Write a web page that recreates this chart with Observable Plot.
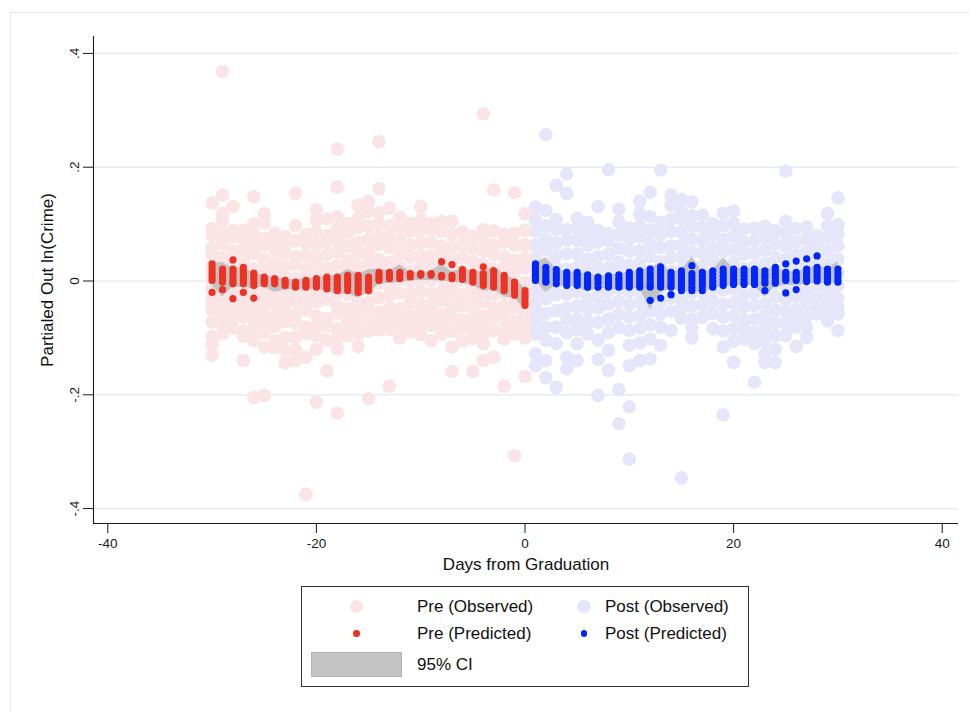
<!DOCTYPE html>
<html>
<head>
<meta charset="utf-8">
<script src="https://cdn.jsdelivr.net/npm/d3@7"></script>
<script src="https://cdn.jsdelivr.net/npm/@observablehq/plot@0.6"></script>
<style>
  body { margin: 0; background: #fff; font-family: "Liberation Sans", Arial, Helvetica, sans-serif; }
  #page { position: relative; width: 969px; height: 712px; overflow: hidden; background: #fff; }
  #outer { position: absolute; left: 10px; top: 12px; width: 980px; height: 720px; border: 1px solid #e9e9e9; }
  #chart { position: absolute; left: 0; top: 0; }
  #legend-box { position: absolute; left: 301px; top: 586px; width: 446px; height: 99px; border: 1.3px solid #333; }
  .lg-text { position: absolute; font-size: 17px; color: #111; line-height: 20px; height: 20px; white-space: nowrap; }
  .lg-dot { position: absolute; border-radius: 50%; }
  .lg-rect { position: absolute; background: #c4c4c4; border: 1px solid #b3b3b3; box-sizing: border-box; }
</style>
</head>
<body>
<div id="page">
  <div id="outer"></div>
  <div id="chart"></div>
  <div id="legend-box"></div>
  <div id="legend"></div>
</div>
<script>
// Days relative to graduation
const preDays = [-30,-29,-28,-27,-26,-25,-24,-23,-22,-21,-20,-19,-18,-17,-16,-15,-14,-13,-12,-11,-10,-9,-8,-7,-6,-5,-4,-3,-2,-1,0];
const postDays = [1,2,3,4,5,6,7,8,9,10,11,12,13,14,15,16,17,18,19,20,21,22,23,24,25,26,27,28,29,30];

// Observed partialed-out ln(crime), one list per day (pre period)
const preObserved = [
  [0.137, 0.092, 0.081, 0.058, 0.047, 0.026, 0.018, 0.002, -0.013, -0.031, -0.046, -0.051, -0.072, -0.098, -0.111, -0.130],
  [0.368, 0.151, 0.119, 0.106, 0.083, 0.066, 0.041, 0.033, 0.009, -0.006, -0.027, -0.043, -0.062, -0.075, -0.092],
  [0.131, 0.089, 0.077, 0.052, 0.044, 0.021, 0.007, -0.016, -0.024, -0.041, -0.057, -0.066, -0.083],
  [0.089, 0.071, 0.057, 0.036, 0.013, -0.004, -0.019, -0.038, -0.047, -0.063, -0.088, -0.097, -0.140],
  [0.148, 0.101, 0.082, 0.061, 0.049, 0.022, 0.011, -0.014, -0.029, -0.052, -0.068, -0.083, -0.105, -0.205],
  [0.118, 0.102, 0.074, 0.063, 0.038, 0.017, 0.003, -0.021, -0.039, -0.058, -0.072, -0.090, -0.116, -0.201],
  [0.084, 0.073, 0.055, 0.031, 0.019, -0.008, -0.026, -0.041, -0.064, -0.080, -0.105, -0.117],
  [0.078, 0.062, 0.047, 0.024, 0.006, -0.012, -0.035, -0.053, -0.071, -0.099, -0.122, -0.144],
  [0.154, 0.097, 0.071, 0.043, 0.029, 0.004, -0.018, -0.036, -0.059, -0.074, -0.099, -0.121, -0.140],
  [0.081, 0.067, 0.045, 0.021, 0.008, -0.016, -0.033, -0.051, -0.081, -0.092, -0.134, -0.375],
  [0.125, 0.107, 0.086, 0.064, 0.041, 0.028, 0.006, -0.022, -0.037, -0.061, -0.079, -0.096, -0.120, -0.213],
  [0.109, 0.080, 0.068, 0.046, 0.022, 0.009, -0.017, -0.032, -0.066, -0.079, -0.104, -0.158],
  [0.232, 0.165, 0.113, 0.091, 0.072, 0.051, 0.027, 0.004, -0.021, -0.043, -0.056, -0.083, -0.100, -0.119, -0.232],
  [0.101, 0.084, 0.061, 0.037, 0.022, -0.006, -0.024, -0.049, -0.067, -0.083, -0.096],
  [0.133, 0.110, 0.094, 0.068, 0.049, 0.026, 0.004, -0.019, -0.037, -0.055, -0.071, -0.093, -0.115],
  [0.140, 0.122, 0.096, 0.073, 0.051, 0.031, 0.009, -0.014, -0.038, -0.052, -0.074, -0.088, -0.207],
  [0.245, 0.162, 0.120, 0.101, 0.079, 0.064, 0.038, 0.021, -0.004, -0.029, -0.055, -0.069, -0.086],
  [0.128, 0.097, 0.076, 0.059, 0.033, 0.011, -0.008, -0.026, -0.047, -0.066, -0.085, -0.185],
  [0.112, 0.093, 0.071, 0.048, 0.026, 0.003, -0.021, -0.049, -0.061, -0.081, -0.100],
  [0.101, 0.087, 0.063, 0.042, 0.017, -0.001, -0.023, -0.038, -0.061, -0.072, -0.089],
  [0.131, 0.108, 0.087, 0.066, 0.043, 0.024, 0.003, -0.018, -0.041, -0.057, -0.076, -0.094],
  [0.101, 0.091, 0.068, 0.044, 0.027, 0.002, -0.021, -0.043, -0.062, -0.078, -0.105],
  [0.105, 0.088, 0.062, 0.047, 0.023, 0.006, -0.017, -0.034, -0.059, -0.074, -0.093],
  [0.105, 0.082, 0.059, 0.036, 0.014, -0.008, -0.027, -0.049, -0.067, -0.088, -0.116, -0.159],
  [0.086, 0.063, 0.041, 0.018, 0.002, -0.024, -0.043, -0.068, -0.082, -0.105],
  [0.079, 0.058, 0.034, 0.014, -0.009, -0.028, -0.047, -0.066, -0.083, -0.101, -0.159],
  [0.294, 0.090, 0.074, 0.052, 0.028, 0.007, -0.019, -0.036, -0.061, -0.078, -0.094, -0.110, -0.140],
  [0.160, 0.088, 0.063, 0.046, 0.021, -0.002, -0.024, -0.048, -0.064, -0.087, -0.134],
  [0.082, 0.068, 0.043, 0.024, -0.001, -0.021, -0.044, -0.062, -0.083, -0.102, -0.185],
  [0.155, 0.084, 0.063, 0.037, 0.016, -0.008, -0.029, -0.047, -0.071, -0.093, -0.307],
  [0.118, 0.089, 0.064, 0.041, 0.023, -0.003, -0.021, -0.046, -0.063, -0.081, -0.100, -0.168]
];

// Observed partialed-out ln(crime), one list per day (post period)
const postObserved = [
  [0.130, 0.107, 0.088, 0.063, 0.041, 0.022, 0.004, -0.018, -0.039, -0.052, -0.071, -0.093, -0.128, -0.149],
  [0.257, 0.124, 0.097, 0.074, 0.056, 0.031, 0.009, -0.012, -0.031, -0.057, -0.081, -0.104, -0.140, -0.170],
  [0.168, 0.108, 0.091, 0.067, 0.044, 0.023, -0.004, -0.024, -0.052, -0.081, -0.110, -0.187],
  [0.188, 0.154, 0.091, 0.072, 0.048, 0.021, 0.002, -0.023, -0.047, -0.068, -0.091, -0.134, -0.154],
  [0.110, 0.093, 0.071, 0.047, 0.024, 0.003, -0.019, -0.044, -0.067, -0.085, -0.110, -0.140],
  [0.103, 0.082, 0.063, 0.038, 0.016, -0.006, -0.031, -0.049, -0.071, -0.093],
  [0.131, 0.089, 0.068, 0.043, 0.022, -0.004, -0.027, -0.048, -0.073, -0.104, -0.138, -0.201],
  [0.196, 0.083, 0.071, 0.047, 0.023, 0.001, -0.018, -0.041, -0.067, -0.091, -0.122, -0.157],
  [0.126, 0.104, 0.081, 0.057, 0.033, 0.011, -0.013, -0.036, -0.059, -0.082, -0.191, -0.251],
  [0.093, 0.074, 0.052, 0.027, 0.006, -0.019, -0.041, -0.063, -0.087, -0.113, -0.149, -0.221, -0.313],
  [0.140, 0.118, 0.096, 0.078, 0.053, 0.032, 0.009, -0.017, -0.038, -0.061, -0.083, -0.109, -0.140],
  [0.156, 0.113, 0.089, 0.066, 0.043, 0.018, -0.004, -0.028, -0.052, -0.077, -0.102, -0.137],
  [0.195, 0.103, 0.082, 0.059, 0.034, 0.012, -0.011, -0.036, -0.058, -0.081, -0.113],
  [0.151, 0.133, 0.108, 0.087, 0.062, 0.041, 0.017, -0.006, -0.029, -0.053, -0.087],
  [0.143, 0.122, 0.109, 0.086, 0.063, 0.041, 0.018, -0.007, -0.031, -0.048, -0.066, -0.346],
  [0.139, 0.115, 0.097, 0.074, 0.051, 0.027, 0.003, -0.021, -0.044, -0.067, -0.083, -0.100],
  [0.116, 0.094, 0.071, 0.049, 0.026, 0.004, -0.019, -0.041, -0.064],
  [0.101, 0.082, 0.058, 0.036, 0.011, -0.013, -0.034, -0.057, -0.084],
  [0.119, 0.097, 0.073, 0.052, 0.029, 0.006, -0.016, -0.041, -0.063, -0.088, -0.116, -0.235],
  [0.123, 0.101, 0.079, 0.056, 0.033, 0.009, -0.014, -0.038, -0.061, -0.084, -0.106, -0.143],
  [0.091, 0.068, 0.047, 0.022, 0.001, -0.024, -0.046, -0.069, -0.085, -0.102],
  [0.093, 0.071, 0.049, 0.026, 0.004, -0.021, -0.043, -0.067, -0.091, -0.110, -0.178],
  [0.096, 0.077, 0.054, 0.031, 0.008, -0.016, -0.039, -0.061, -0.083, -0.105, -0.128, -0.143],
  [0.088, 0.066, 0.042, 0.019, -0.004, -0.027, -0.051, -0.073, -0.096, -0.120, -0.143],
  [0.193, 0.105, 0.083, 0.061, 0.038, 0.014, -0.009, -0.032, -0.054, -0.076, -0.096],
  [0.092, 0.069, 0.046, 0.022, -0.002, -0.026, -0.049, -0.067, -0.081, -0.115],
  [0.095, 0.074, 0.052, 0.029, 0.006, -0.018, -0.041, -0.063, -0.081, -0.099],
  [0.080, 0.061, 0.038, 0.014, -0.009, -0.031, -0.046, -0.058],
  [0.119, 0.097, 0.076, 0.053, 0.029, 0.006, -0.017, -0.039, -0.058, -0.070],
  [0.146, 0.099, 0.083, 0.062, 0.038, 0.015, -0.008, -0.031, -0.047, -0.058, -0.087]
];

// Model predictions, one list per day
const prePredicted = [
  [0.030, 0.024, 0.018, 0.012, 0.006, 0.001, -0.020],
  [0.021, 0.016, 0.011, 0.006, 0.001, -0.002, -0.015],
  [0.037, 0.021, 0.016, 0.010, 0.004, -0.001, -0.005, -0.031],
  [0.024, 0.018, 0.012, 0.006, 0.001, -0.005, -0.020],
  [0.014, 0.009, 0.004, -0.002, -0.008, -0.030],
  [0.007, 0.003, -0.001, -0.005],
  [0.004, 0.000, -0.005],
  [0.001, -0.003, -0.008],
  [-0.002, -0.006, -0.011],
  [0.001, -0.004, -0.008, -0.011],
  [0.004, 0.000, -0.004, -0.008, -0.011],
  [0.007, 0.002, -0.003, -0.008, -0.014],
  [0.007, 0.002, -0.003, -0.008, -0.013, -0.017],
  [0.010, 0.005, 0.000, -0.005, -0.010, -0.017],
  [0.010, 0.005, 0.000, -0.005, -0.010, -0.015, -0.020],
  [0.007, 0.002, -0.003, -0.008, -0.013, -0.017],
  [0.015, 0.010, 0.005, 0.001],
  [0.015, 0.010, 0.004],
  [0.015, 0.010, 0.004],
  [0.013, 0.007],
  [0.013, 0.010],
  [0.013, 0.010],
  [0.034, 0.010, 0.007],
  [0.029, 0.010, 0.004],
  [0.020, 0.015, 0.009, 0.003],
  [0.015, 0.010, 0.004, -0.002],
  [0.025, 0.013, 0.008, 0.002, -0.003, -0.008],
  [0.018, 0.013, 0.007, 0.001, -0.005, -0.011],
  [0.010, 0.005, -0.001, -0.006, -0.012, -0.017],
  [-0.002, -0.007, -0.012, -0.018, -0.025],
  [-0.017, -0.022, -0.027, -0.032, -0.038, -0.043]
];

const postPredicted = [
  [0.030, 0.024, 0.018, 0.012, 0.006, 0.001],
  [0.024, 0.018, 0.012, 0.006, 0.001, -0.002],
  [0.020, 0.014, 0.008, 0.002, -0.005],
  [0.015, 0.010, 0.004, -0.002, -0.008],
  [0.015, 0.010, 0.004, -0.002, -0.008],
  [0.011, 0.005, 0.000, -0.006, -0.011],
  [0.007, 0.002, -0.004, -0.011],
  [0.009, 0.004, -0.002, -0.006, -0.011],
  [0.011, 0.005, 0.000, -0.006, -0.011],
  [0.015, 0.010, 0.004, -0.002, -0.007, -0.011],
  [0.018, 0.012, 0.006, 0.000, -0.006, -0.011],
  [0.021, 0.015, 0.009, 0.003, -0.003, -0.008, -0.011, -0.034],
  [0.025, 0.019, 0.013, 0.007, 0.001, -0.005, -0.011, -0.030],
  [0.015, 0.010, 0.004, -0.002, -0.007, -0.011, -0.024],
  [0.018, 0.012, 0.006, 0.000, -0.006, -0.012, -0.017],
  [0.027, 0.013, 0.007, 0.001, -0.005, -0.011, -0.017],
  [0.015, 0.009, 0.003, -0.003, -0.009, -0.017],
  [0.018, 0.012, 0.006, 0.000, -0.006, -0.011],
  [0.021, 0.015, 0.009, 0.003, -0.003, -0.008],
  [0.021, 0.015, 0.009, 0.003, -0.003, -0.006],
  [0.021, 0.015, 0.009, 0.003, -0.003, -0.006],
  [0.021, 0.015, 0.009, 0.003, -0.003, -0.006],
  [0.018, 0.012, 0.006, 0.000, -0.004, -0.017],
  [0.024, 0.018, 0.012, 0.006, 0.000, -0.004],
  [0.030, 0.015, 0.010, 0.005, 0.001, -0.021],
  [0.035, 0.015, 0.010, 0.005, 0.001, -0.015],
  [0.039, 0.021, 0.015, 0.009, 0.003, -0.001],
  [0.044, 0.024, 0.018, 0.012, 0.006, 0.000],
  [0.021, 0.015, 0.009, 0.003, -0.002],
  [0.021, 0.015, 0.009, 0.003, -0.002]
];

// 95% confidence band around the predictions
const preCiLo = [-0.008, -0.028, -0.010, -0.012, -0.013, -0.010, -0.020, -0.016, -0.015, -0.014, -0.014, -0.018, -0.024, -0.022, -0.030, -0.020, -0.006, -0.004, -0.003, 0.000, 0.001, 0.001, 0.000, -0.002, -0.004, -0.008, -0.018, -0.016, -0.028, -0.030, -0.050];
const preCiHi = [0.030, 0.033, 0.022, 0.024, 0.014, 0.010, 0.006, 0.003, 0.002, 0.004, 0.006, 0.008, 0.010, 0.020, 0.012, 0.020, 0.020, 0.018, 0.028, 0.016, 0.015, 0.017, 0.030, 0.016, 0.021, 0.018, 0.016, 0.026, 0.012, 0.003, -0.012];
const postCiLo = [0.000, -0.020, -0.007, -0.010, -0.010, -0.020, -0.013, -0.013, -0.018, -0.013, -0.013, -0.050, -0.020, -0.014, -0.019, -0.019, -0.019, -0.013, -0.010, -0.008, -0.008, -0.008, -0.028, -0.010, -0.008, -0.008, -0.006, -0.004, -0.004, -0.004];
const postCiHi = [0.032, 0.040, 0.022, 0.016, 0.015, 0.012, 0.009, 0.011, 0.012, 0.016, 0.019, 0.022, 0.033, 0.016, 0.019, 0.042, 0.016, 0.019, 0.040, 0.022, 0.022, 0.022, 0.019, 0.025, 0.016, 0.016, 0.022, 0.026, 0.022, 0.034];

// Axis ticks and their printed labels
const xTicks = [-40, -20, 0, 20, 40];
const xTickLabels = ["-40", "-20", "0", "20", "40"];
const yTicks = [-0.4, -0.2, 0, 0.2, 0.4];
const yTickLabels = ["-.4", "-.2", "0", ".2", ".4"];

const xTitle = "Days from Graduation";
const yTitle = "Partialed Out ln(Crime)";

const legendLabels = {
  preObs: "Pre (Observed)", postObs: "Post (Observed)",
  prePred: "Pre (Predicted)", postPred: "Post (Predicted)",
  ci: "95% CI"
};

const colors = {
  preObs: "#fae4e5", postObs: "#e6e6fa",
  prePred: "#ee3224", postPred: "#0026ff",
  ci: "#c2c2c2", grid: "#e6edf2", axis: "#1a1a1a"
};

// Flatten the per-day lists into rows
const rows = (days, lists) => days.flatMap((d, i) => lists[i].map(v => ({day: d, v})));
const ciRows = (days, lo, hi) => days.map((d, i) => ({day: d, lo: lo[i], hi: hi[i]}));

const preObsRows = rows(preDays, preObserved);
const postObsRows = rows(postDays, postObserved);
const prePredRows = rows(preDays, prePredicted);
const postPredRows = rows(postDays, postPredicted);
const preCiRows = ciRows(preDays, preCiLo, preCiHi);
const postCiRows = ciRows(postDays, postCiLo, postCiHi);

const xDomain = [-41.37, 41.56];
const yDomain = [-0.4262, 0.4297];
const font = '"Liberation Sans", Arial, Helvetica, sans-serif';

const chart = Plot.plot({
  width: 969,
  height: 590,
  marginLeft: 93,
  marginRight: 11,
  marginTop: 36,
  marginBottom: 67,
  style: {fontFamily: font, fontSize: "13.5px", color: colors.axis, background: "transparent", overflow: "visible"},
  x: {domain: xDomain},
  y: {domain: yDomain},
  marks: [
    Plot.ruleY(yTicks, {stroke: colors.grid, strokeWidth: 1.6}),
    Plot.dot(postObsRows, {x: "day", y: "v", r: 6.8, fill: colors.postObs, stroke: null}),
    Plot.dot(preObsRows, {x: "day", y: "v", r: 6.8, fill: colors.preObs, stroke: null}),
    Plot.areaY(preCiRows, {x: "day", y1: "lo", y2: "hi", fill: colors.ci}),
    Plot.areaY(postCiRows, {x: "day", y1: "lo", y2: "hi", fill: colors.ci}),
    Plot.dot(prePredRows, {x: "day", y: "v", r: 3.6, fill: colors.prePred, stroke: null}),
    Plot.dot(postPredRows, {x: "day", y: "v", r: 3.6, fill: colors.postPred, stroke: null}),
    Plot.ruleX([xDomain[0]], {stroke: colors.axis, strokeWidth: 1.1}),
    Plot.ruleY([yDomain[0]], {stroke: colors.axis, strokeWidth: 1.1}),
    Plot.axisX(xTicks, {
      tickSize: 10, tickPadding: 5, label: null, fontSize: 13.5,
      tickFormat: d => xTickLabels[xTicks.indexOf(d)]
    }),
    Plot.axisY(yTicks, {
      tickSize: 10, tickPadding: 5, tickRotate: -90, label: null, fontSize: 13.5,
      tickFormat: d => yTickLabels[yTicks.indexOf(d)]
    }),
    Plot.text([xTitle], {text: d => d, frameAnchor: "bottom", textAnchor: "middle", dy: 46, fontSize: 17, fill: "#111"}),
    Plot.text([yTitle], {text: d => d, frameAnchor: "left", textAnchor: "middle", dx: -46, rotate: -90, fontSize: 17, fill: "#111"})
  ]
});
document.getElementById("chart").appendChild(chart);

// Legend below the plot
const legend = document.getElementById("legend");
function addDot(cx, cy, r, fill) {
  const el = document.createElement("div");
  el.className = "lg-dot";
  Object.assign(el.style, {left: (cx - r) + "px", top: (cy - r) + "px", width: 2 * r + "px", height: 2 * r + "px", background: fill});
  legend.appendChild(el);
}
function addText(x, cy, text) {
  const el = document.createElement("div");
  el.className = "lg-text";
  el.textContent = text;
  Object.assign(el.style, {left: x + "px", top: (cy - 10) + "px"});
  legend.appendChild(el);
}
addDot(356.7, 606.7, 6.7, colors.preObs);
addText(417, 606.7, legendLabels.preObs);
addDot(584, 606.7, 6.7, colors.postObs);
addText(605, 606.7, legendLabels.postObs);
addDot(356.7, 633.5, 3.3, colors.prePred);
addText(417, 633.5, legendLabels.prePred);
addDot(584, 633.5, 3.3, colors.postPred);
addText(605, 633.5, legendLabels.postPred);
const rect = document.createElement("div");
rect.className = "lg-rect";
Object.assign(rect.style, {left: "311px", top: "652px", width: "91px", height: "25px"});
legend.appendChild(rect);
addText(417, 665, legendLabels.ci);
</script>
</body>
</html>
